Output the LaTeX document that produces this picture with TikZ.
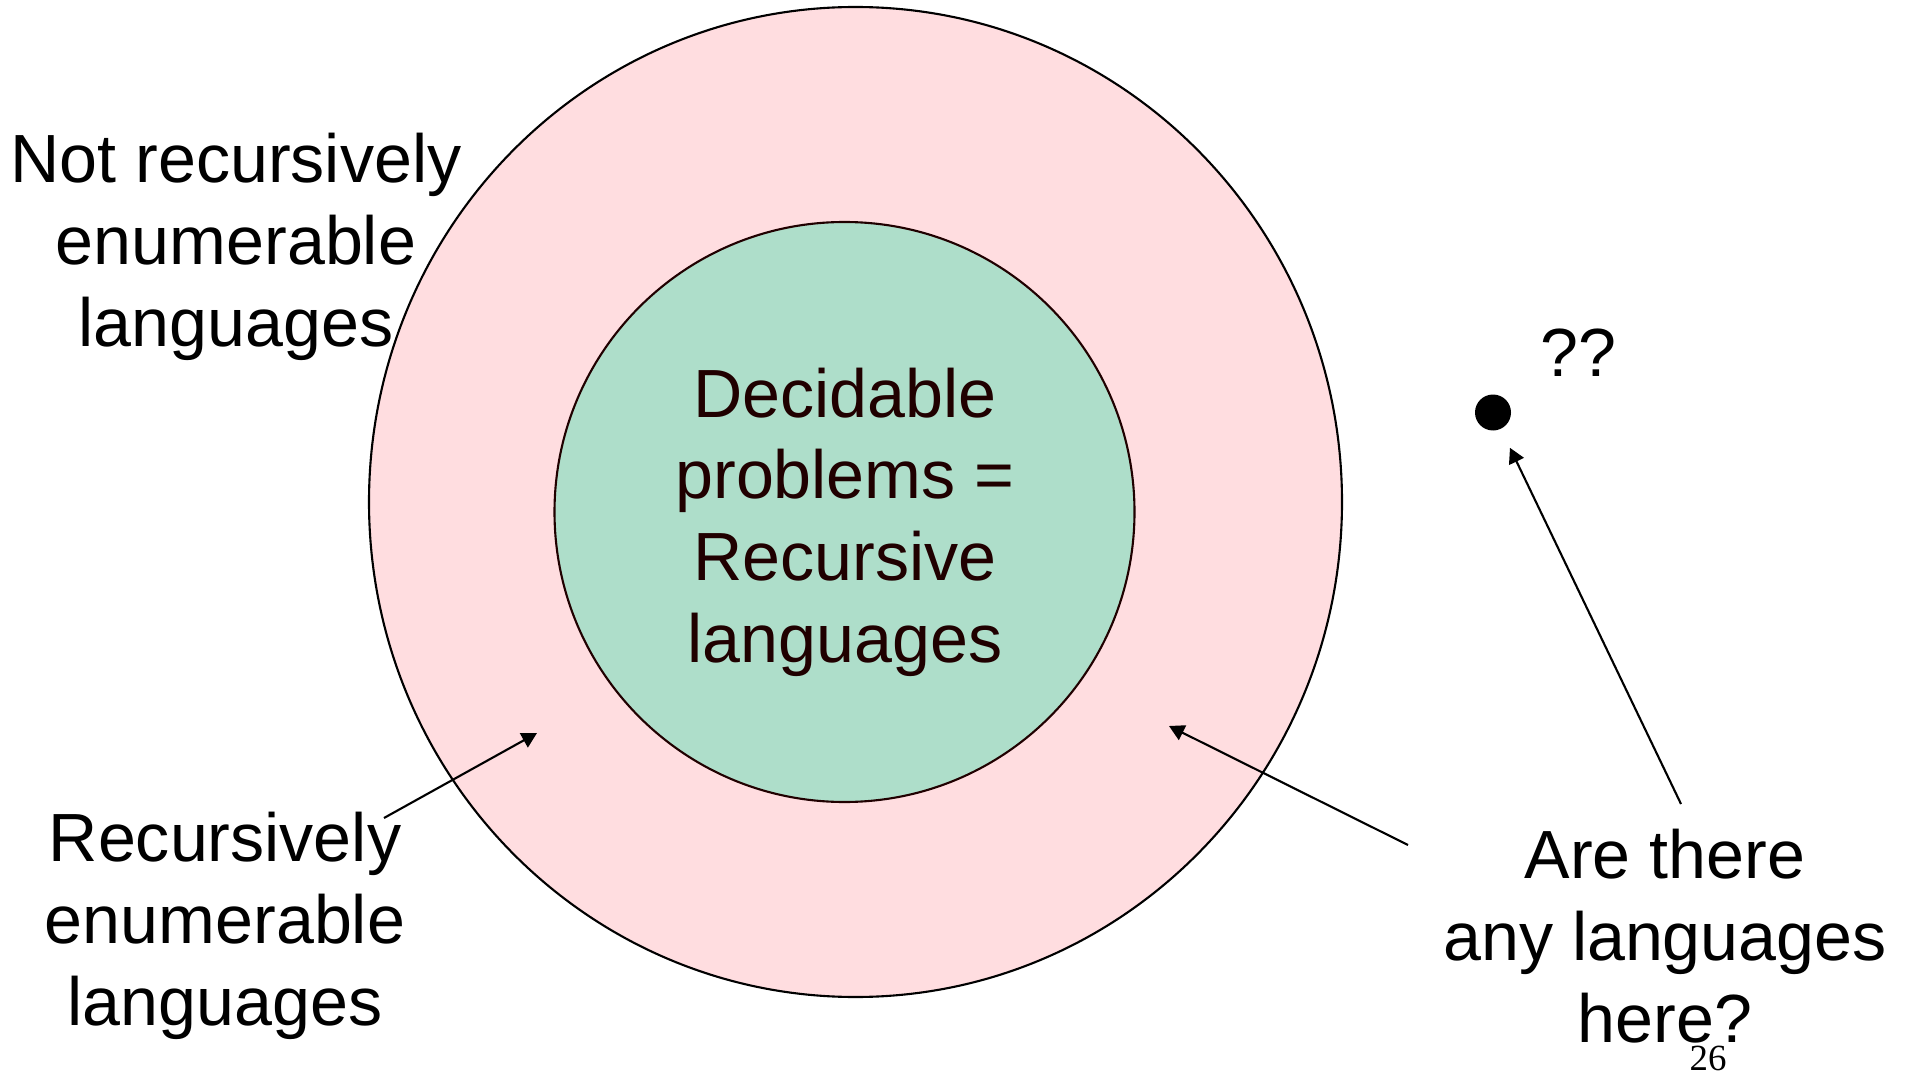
\documentclass[tikz,border=0pt]{standalone}
\usepackage{fontspec}
\setmainfont{Liberation Sans}
\newfontfamily\slidenumfont{Liberation Serif}
\usetikzlibrary{arrows.meta, shapes.geometric}
\definecolor{rebg}{RGB}{255,221,224}
\definecolor{recbg}{RGB}{174,222,202}
\definecolor{recink}{RGB}{32,0,0}

\begin{document}
\begin{tikzpicture}[
  lbl/.style={align=center, inner sep=0pt, anchor=base,
              font=\fontsize{19.4}{23.2}\selectfont},
  arr/.style={-{Triangle[length=4.3pt, width=4.6pt]}, line width=0.6pt},
  ring/.style={draw=black, line width=0.6pt}
]
  \useasboundingbox (0,0) rectangle (19.05,10.73);

  % the two sets
  \node[ring, ellipse, fill=rebg, minimum width=9.73cm, minimum height=9.9cm,
        inner sep=0pt] (re) at (8.555,5.71) {};
  \node[ring, circle, draw=recink, fill=recbg, minimum size=5.8cm,
        inner sep=0pt] (rec) at (8.445,5.61) {};
  \node[lbl, text=recink] (dec) at (8.45,4.11)
       {Decidable\\problems =\\Recursive\\languages};

  % labels (base = last line)
  \node[lbl] (nre) at (2.36,7.27) {Not recursively\\enumerable\\languages};
  \node[lbl] (relbl) at (2.25,0.48) {Recursively\\enumerable\\languages};
  \node[lbl] (ask) at (16.65,0.31) {Are there\\any languages\\here?};

  % the lone language
  \node[circle, fill=black, minimum size=0.36cm, inner sep=0pt] (dot) at (14.93,6.605) {};
  \node[lbl] (qq) at (15.78,6.96) {??};

  % arrows
  \coordinate (reTail)  at (3.84,2.55);
  \coordinate (reTip)   at (5.37,3.40);
  \coordinate (askTail) at (14.08,2.28);
  \coordinate (askTip)  at (11.69,3.47);
  \coordinate (qqTail)  at (16.81,2.69);
  \draw[arr] (reTail) -- (reTip);
  \draw[arr] (askTail) -- (askTip);
  \draw[arr, shorten >=2.05mm] (qqTail) -- (dot);

  \node[anchor=base, inner sep=0pt, font=\slidenumfont\fontsize{10.5}{12}\selectfont]
       (pagenum) at (17.08,0.03) {26};
\end{tikzpicture}
\end{document}
